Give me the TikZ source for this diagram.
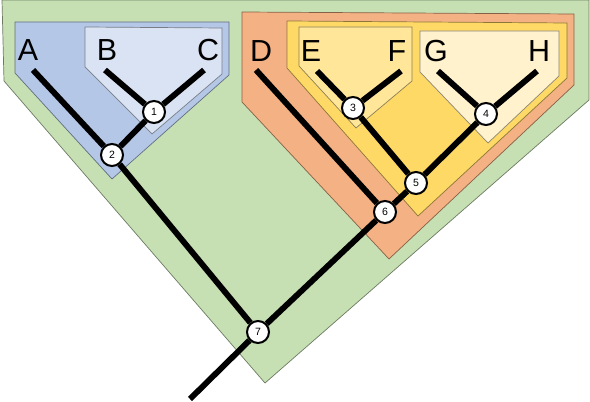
\documentclass[tikz,border=0pt]{standalone}
\usepackage{fontspec}
\setmainfont{Liberation Sans}
\usetikzlibrary{positioning}
\definecolor{cladegreen}{HTML}{C6E0B4}
\definecolor{cladeblue}{HTML}{B4C7E7}
\definecolor{cladepale}{HTML}{DAE3F3}
\definecolor{cladeorange}{HTML}{F4B183}
\definecolor{cladeyellow}{HTML}{FFD966}
\definecolor{cladesand}{HTML}{FFE699}
\definecolor{cladecream}{HTML}{FFF2CC}

\begin{document}
\begin{tikzpicture}[x=0.03cm,y=-0.03cm,
  grp/.style={draw=#1!55!black,fill=#1,line width=0.6pt},
  branch/.style={line width=5pt,black},
  clade/.style={circle,draw=black,line width=1.7pt,fill=white,
    minimum size=0.66cm,inner sep=0pt,font=\fontsize{9}{10}\selectfont},
  taxon/.style={anchor=base,inner sep=0pt,font=\fontsize{26}{28}\selectfont}
]
  \useasboundingbox (0,0) rectangle (590,402);

  % nested groups
  \draw[grp=cladegreen] (2,0) -- (589,0) -- (589,100) -- (265,383) -- (4,81) -- cycle;
  \draw[grp=cladeblue] (15,22) -- (229,22) -- (229,75) -- (112,179) -- (15,73) -- cycle;
  \draw[grp=cladepale] (85,27) -- (222,28) -- (222,74) -- (152,134) -- (85,67) -- cycle;
  \draw[grp=cladeorange] (242,12) -- (574,14) -- (574,85) -- (389,259) -- (242,102) -- cycle;
  \draw[grp=cladeyellow] (287,21) -- (567,23) -- (567,78) -- (418,216) -- (287,68) -- cycle;
  \draw[grp=cladesand] (299,27) -- (412,27) -- (412,81) -- (356,128) -- (299,66) -- cycle;
  \draw[grp=cladecream] (420,31) -- (559,31) -- (559,76) -- (488,143) -- (420,72) -- cycle;

  % taxa
  \node[taxon] (A) at (28,61) {A};
  \node[taxon] (B) at (107,61) {B};
  \node[taxon] (C) at (208,61) {C};
  \node[taxon] (D) at (261,62) {D};
  \node[taxon] (E) at (311,62) {E};
  \node[taxon] (F) at (397,62) {F};
  \node[taxon] (G) at (436,62) {G};
  \node[taxon] (H) at (539,62) {H};

  \coordinate (tA) at (33,70);
  \coordinate (tB) at (105,70);
  \coordinate (tC) at (204,70);
  \coordinate (tD) at (256,70);
  \coordinate (tE) at (317,71);
  \coordinate (tF) at (401,71);
  \coordinate (tG) at (438,71);
  \coordinate (tH) at (537,71);
  \coordinate (root) at (190,399);

  % clades
  \node[clade] (n1) at (154,112) {1};
  \node[clade] (n2) at (112,155) {2};
  \node[clade] (n3) at (353,108) {3};
  \node[clade] (n4) at (486,114) {4};
  \node[clade] (n5) at (416,183) {5};
  \node[clade] (n6) at (385,212) {6};
  \node[clade] (n7) at (258,332) {7};

  \draw[branch] (root) -- (n7);
  \draw[branch] (n7) -- (n2);
  \draw[branch] (n2) -- (tA);
  \draw[branch] (n2) -- (n1);
  \draw[branch] (n1) -- (tB);
  \draw[branch] (n1) -- (tC);
  \draw[branch] (n7) -- (n6);
  \draw[branch] (n6) -- (tD);
  \draw[branch] (n6) -- (n5);
  \draw[branch] (n5) -- (n3);
  \draw[branch] (n3) -- (tE);
  \draw[branch] (n3) -- (tF);
  \draw[branch] (n5) -- (n4);
  \draw[branch] (n4) -- (tG);
  \draw[branch] (n4) -- (tH);
\end{tikzpicture}
\end{document}
